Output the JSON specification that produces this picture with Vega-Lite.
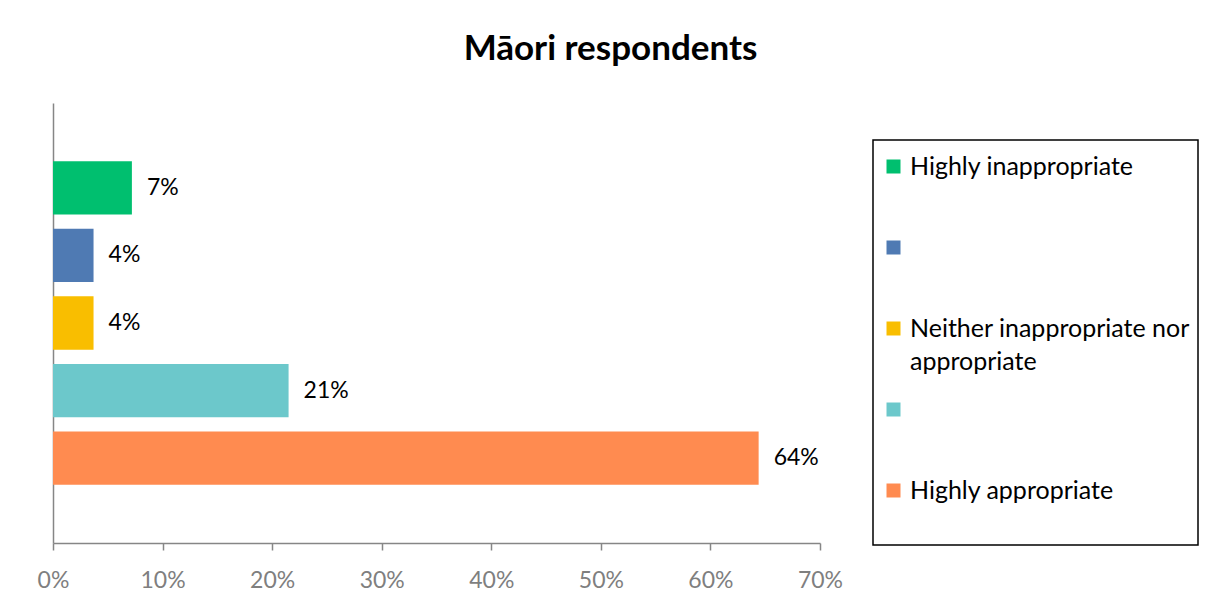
{
  "$schema": "https://vega.github.io/schema/vega-lite/v6.json",
  "width": 767,
  "height": 440,
  "autosize": {"type": "none"},
  "padding": {"left": 53, "top": 103, "right": 393, "bottom": 64},
  "background": "white",
  "config": {
    "font": "Lato",
    "view": {"stroke": null}
  },
  "title": {
    "text": "Māori respondents",
    "fontSize": 35,
    "fontWeight": "bold",
    "color": "black",
    "anchor": "middle",
    "frame": "group",
    "dx": 174,
    "baseline": "alphabetic",
    "offset": 8
  },
  "data": {
    "values": [
      {"rating": "Highly inappropriate", "share": 0.072, "label": "7%"},
      {"rating": "Inappropriate", "share": 0.037, "label": "4%"},
      {"rating": "Neither inappropriate nor appropriate", "share": 0.037, "label": "4%"},
      {"rating": "Appropriate", "share": 0.215, "label": "21%"},
      {"rating": "Highly appropriate", "share": 0.644, "label": "64%"}
    ]
  },
  "encoding": {
    "y": {
      "field": "rating",
      "type": "nominal",
      "sort": null,
      "scale": {"paddingInner": 0.21, "paddingOuter": 0.86},
      "axis": {"title": null, "labels": false, "ticks": false, "domainColor": "#868686", "domainWidth": 1.5}
    },
    "x": {
      "field": "share",
      "type": "quantitative",
      "scale": {"domain": [0, 0.7], "nice": false},
      "axis": {
        "title": null,
        "format": ".0%",
        "values": [0, 0.1, 0.2, 0.3, 0.4, 0.5, 0.6, 0.7],
        "grid": false,
        "labelFlush": false,
        "domainColor": "#868686",
        "domainWidth": 1.5,
        "tickColor": "#868686",
        "tickWidth": 1.5,
        "tickSize": 7,
        "labelFontSize": 23,
        "labelColor": "#7f7f7f",
        "labelPadding": 19
      }
    }
  },
  "layer": [
    {
      "mark": {"type": "bar"},
      "encoding": {
        "color": {
          "field": "rating",
          "type": "nominal",
          "sort": null,
          "scale": {
            "domain": ["Highly inappropriate", "Inappropriate", "Neither inappropriate nor appropriate", "Appropriate", "Highly appropriate"],
            "range": ["#00BF6F", "#4F7AB3", "#F9BE00", "#6CC8CB", "#FF8B50"]
          },
          "legend": {
            "title": "\u00a0",
            "titleFontSize": 4,
            "titlePadding": 2,
            "orient": "none",
            "legendX": 820,
            "legendY": 37,
            "padding": 8,
            "strokeColor": "black",
            "symbolType": "square",
            "symbolSize": 196,
            "symbolStrokeWidth": 0,
            "symbolOffset": 0,
            "labelOffset": 4,
            "labelFontSize": 25,
            "labelColor": "black",
            "labelBaseline": "middle",
            "labelLimit": 400,
            "rowPadding": 22,
            "labelExpr": "datum.value == 'Neither inappropriate nor appropriate' ? ['Neither inappropriate nor', 'appropriate'] : (datum.value == 'Inappropriate' || datum.value == 'Appropriate') ? [' ', ' '] : [datum.value, ' ']",
            "encode": {
              "legend": {"update": {"strokeWidth": {"value": 1.5}}},
              "labels": {"update": {"lineHeight": {"value": 33}}}
            }
          }
        }
      }
    },
    {
      "mark": {"type": "text", "align": "left", "baseline": "middle", "dx": 15, "fontSize": 23, "color": "black"},
      "encoding": {
        "text": {"field": "label"}
      }
    }
  ]
}
